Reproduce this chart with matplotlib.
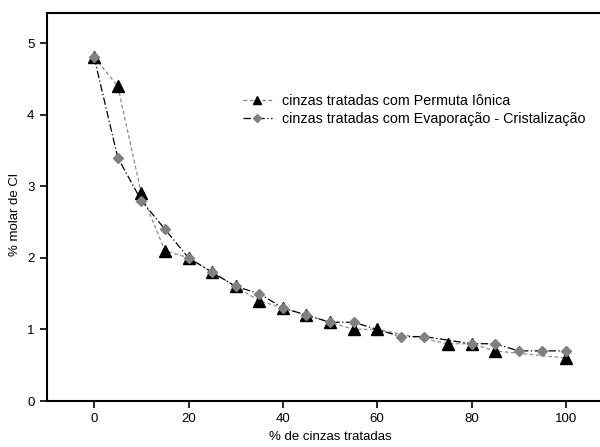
import matplotlib
matplotlib.use("Agg")
import matplotlib.pyplot as plt
from matplotlib.lines import Line2D

plt.rcParams['font.family'] = ['Liberation Sans', 'DejaVu Sans']

x_pi = [0, 5, 10, 15, 20, 25, 30, 35, 40, 45, 50, 55, 60, 75, 80, 85, 100]
y_pi = [4.8, 4.4, 2.9, 2.1, 2.0, 1.8, 1.6, 1.4, 1.3, 1.2, 1.1, 1.0, 1.0, 0.8, 0.8, 0.7, 0.6]

x_ec = [0, 5, 10, 15, 20, 25, 30, 35, 40, 45, 50, 55, 65, 70, 80, 85, 90, 95, 100]
y_ec = [4.8, 3.4, 2.8, 2.4, 2.0, 1.8, 1.6, 1.5, 1.3, 1.2, 1.1, 1.1, 0.9, 0.9, 0.8, 0.8, 0.7, 0.7, 0.7]

label_pi = "cinzas tratadas com Permuta Iônica"
label_ec = "cinzas tratadas com Evaporação - Cristalização"
xticks = [0, 20, 40, 60, 80, 100]
yticks = [0, 1, 2, 3, 4, 5]

fig = plt.figure(figsize=(6, 4.47), dpi=100)
ax = fig.add_axes([47/600, 1 - 401/447, (613-47)/600, (401-13)/447])

ax.plot(x_pi, y_pi, linestyle=(0, (3, 2)), color='#8c8c8c', linewidth=0.9,
        marker='^', markersize=8, markerfacecolor='black', markeredgecolor='black', zorder=2)
ax.plot(x_ec, y_ec, linestyle=(0, (6, 2, 1, 2)), color='black', linewidth=0.9,
        marker='D', markersize=5.6, markerfacecolor='#808080', markeredgecolor='#808080', zorder=3)

ax.set_xlim(-10, 110)
ax.set_ylim(0, 5.42)
ax.set_xticks(xticks)
ax.set_yticks(yticks)
ax.tick_params(direction='out', length=5, width=1.2, labelsize=9.5, colors='black', pad=4)
for s in ['left', 'bottom', 'top']:
    ax.spines[s].set_linewidth(1.5)
ax.spines['right'].set_visible(False)

ax.set_xlabel("% de cinzas tratadas", fontsize=9.5, labelpad=4)
ax.set_ylabel("% molar de Cl", fontsize=9.5)
ax.yaxis.set_label_coords((21 - 47) / 566, 0.48)

h1 = Line2D([], [], linestyle=(0, (3, 2)), color='#808080', linewidth=0.9,
            marker='^', markersize=6, markerfacecolor='black', markeredgecolor='black')
h2 = Line2D([], [], linestyle=(0, (6, 2, 1, 2)), color='black', linewidth=0.9,
            marker='D', markersize=4, markerfacecolor='#808080', markeredgecolor='#808080')
ax.legend([h1, h2], [label_pi, label_ec], loc='upper left',
          bbox_to_anchor=((243-47)/566, 1 - (94-13)/388), frameon=False,
          fontsize=10.3, handlelength=2.0, handletextpad=0.7, borderpad=0,
          labelspacing=0.25, borderaxespad=0)

fig.savefig("out.png", dpi=100)
